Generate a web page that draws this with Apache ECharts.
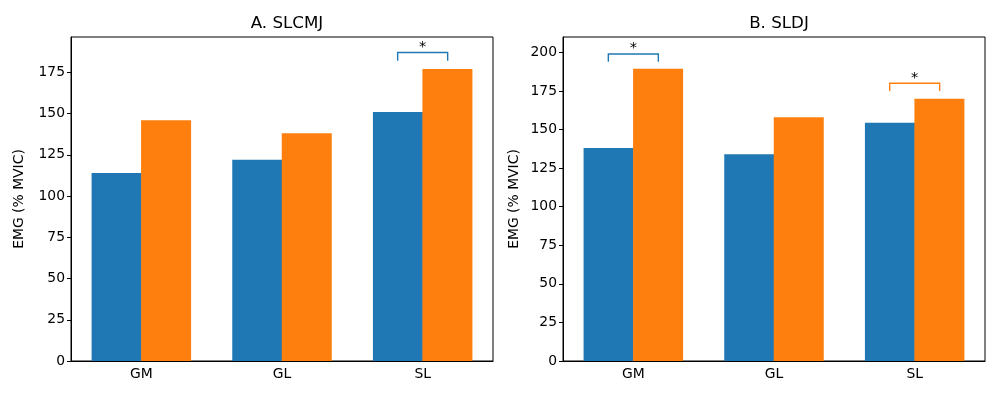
<!DOCTYPE html>
<html>
<head>
    <meta charset="utf-8">
    <title>EMG</title>
    <script src="https://cdn.jsdelivr.net/npm/echarts@6/dist/echarts.min.js"></script>
    <style>
        html, body { margin: 0; padding: 0; background: #fff; }
        #chart { width: 1000px; height: 400px; }
    </style>
</head>
<body>
<div id="chart"></div>
<script>
    // 数据
    var categories = ['GM', 'GL', 'SL'];
    var slcmjBlue = [114, 122, 151];
    var slcmjOrange = [146, 138, 177];
    var sldjBlue = [138, 134, 154.5];
    var sldjOrange = [189.5, 158, 170];
    var yTicks = [0, 25, 50, 75, 100, 125, 150, 175, 200];
    // 显著性标记: [类别, 下端, 上端, 颜色]
    var slcmjSig = [[2, 182, 187, 0]];
    var sldjSig = [[0, 194, 199, 0], [2, 175, 180, 1]];

    var COLORS = ['#1f77b4', '#ff7f0e'];
    var FONT = 'DejaVu Sans';
    var BAR_W = 50;

    function renderBracket(params, api) {
        var lo = api.coord([api.value(0), api.value(1)]);
        var hi = api.coord([api.value(0), api.value(2)]);
        var half = BAR_W / 2;
        var color = COLORS[api.value(3)];
        return {
            type: 'group',
            children: [{
                type: 'polyline',
                shape: { points: [[lo[0] - half, lo[1]], [lo[0] - half, hi[1]], [lo[0] + half, hi[1]], [lo[0] + half, lo[1]]] },
                style: { stroke: color, fill: null, lineWidth: 1.4 }
            }, {
                type: 'text',
                x: lo[0],
                y: hi[1] + 2,
                style: { text: '*', align: 'center', verticalAlign: 'bottom', fill: '#000', font: '14.5px "DejaVu Sans"' }
            }]
        };
    }

    function xAxis(idx) {
        return {
            type: 'category', gridIndex: idx, data: categories,
            axisLine: { lineStyle: { color: '#000', width: 1 } },
            axisTick: { alignWithLabel: true, length: 4, lineStyle: { color: '#000' } },
            axisLabel: { color: '#000', fontFamily: FONT, fontSize: 13.9, margin: 6 }
        };
    }

    function yAxis(idx, max, gap) {
        var vals = yTicks.filter(function (v) { return v <= max; });
        return {
            type: 'value', gridIndex: idx, min: 0, max: max,
            name: 'EMG (% MVIC)', nameLocation: 'middle', nameGap: gap, nameRotate: 90,
            nameTextStyle: { color: '#000', fontFamily: FONT, fontSize: 13.9 },
            axisLine: { show: true, lineStyle: { color: '#000', width: 1 } },
            axisTick: { show: true, length: 4, customValues: vals, lineStyle: { color: '#000' } },
            axisLabel: { color: '#000', fontFamily: FONT, fontSize: 13.9, margin: 6, customValues: vals },
            splitLine: { show: false }
        };
    }

    function bar(name, data, idx, color) {
        return {
            name: name, type: 'bar', xAxisIndex: idx, yAxisIndex: idx,
            data: data, barWidth: BAR_W, barGap: '-1%',
            itemStyle: { color: color }, silent: true
        };
    }

    var chart = echarts.init(document.getElementById('chart'));
    chart.setOption({
        animation: false,
        title: [
            { text: 'A. SLCMJ', left: 282, top: 10, textAlign: 'center', textStyle: { fontFamily: FONT, fontSize: 16.7, fontWeight: 'normal', color: '#000' } },
            { text: 'B. SLDJ', left: 774, top: 10, textAlign: 'center', textStyle: { fontFamily: FONT, fontSize: 16.7, fontWeight: 'normal', color: '#000' } }
        ],
        grid: [
            { left: 71, right: 507, top: 37, bottom: 39, show: true, borderColor: '#000', borderWidth: 1 },
            { left: 563, right: 15, top: 37, bottom: 39, show: true, borderColor: '#000', borderWidth: 1 }
        ],
        xAxis: [xAxis(0), xAxis(1)],
        yAxis: [yAxis(0, 196.4, 45), yAxis(1, 210, 42)],
        series: [
            bar('pre', slcmjBlue, 0, COLORS[0]),
            bar('post', slcmjOrange, 0, COLORS[1]),
            bar('pre', sldjBlue, 1, COLORS[0]),
            bar('post', sldjOrange, 1, COLORS[1]),
            { type: 'custom', xAxisIndex: 0, yAxisIndex: 0, data: slcmjSig, renderItem: renderBracket, encode: { x: 0, y: [1, 2] }, silent: true },
            { type: 'custom', xAxisIndex: 1, yAxisIndex: 1, data: sldjSig, renderItem: renderBracket, encode: { x: 0, y: [1, 2] }, silent: true }
        ]
    });
</script>
</body>
</html>
